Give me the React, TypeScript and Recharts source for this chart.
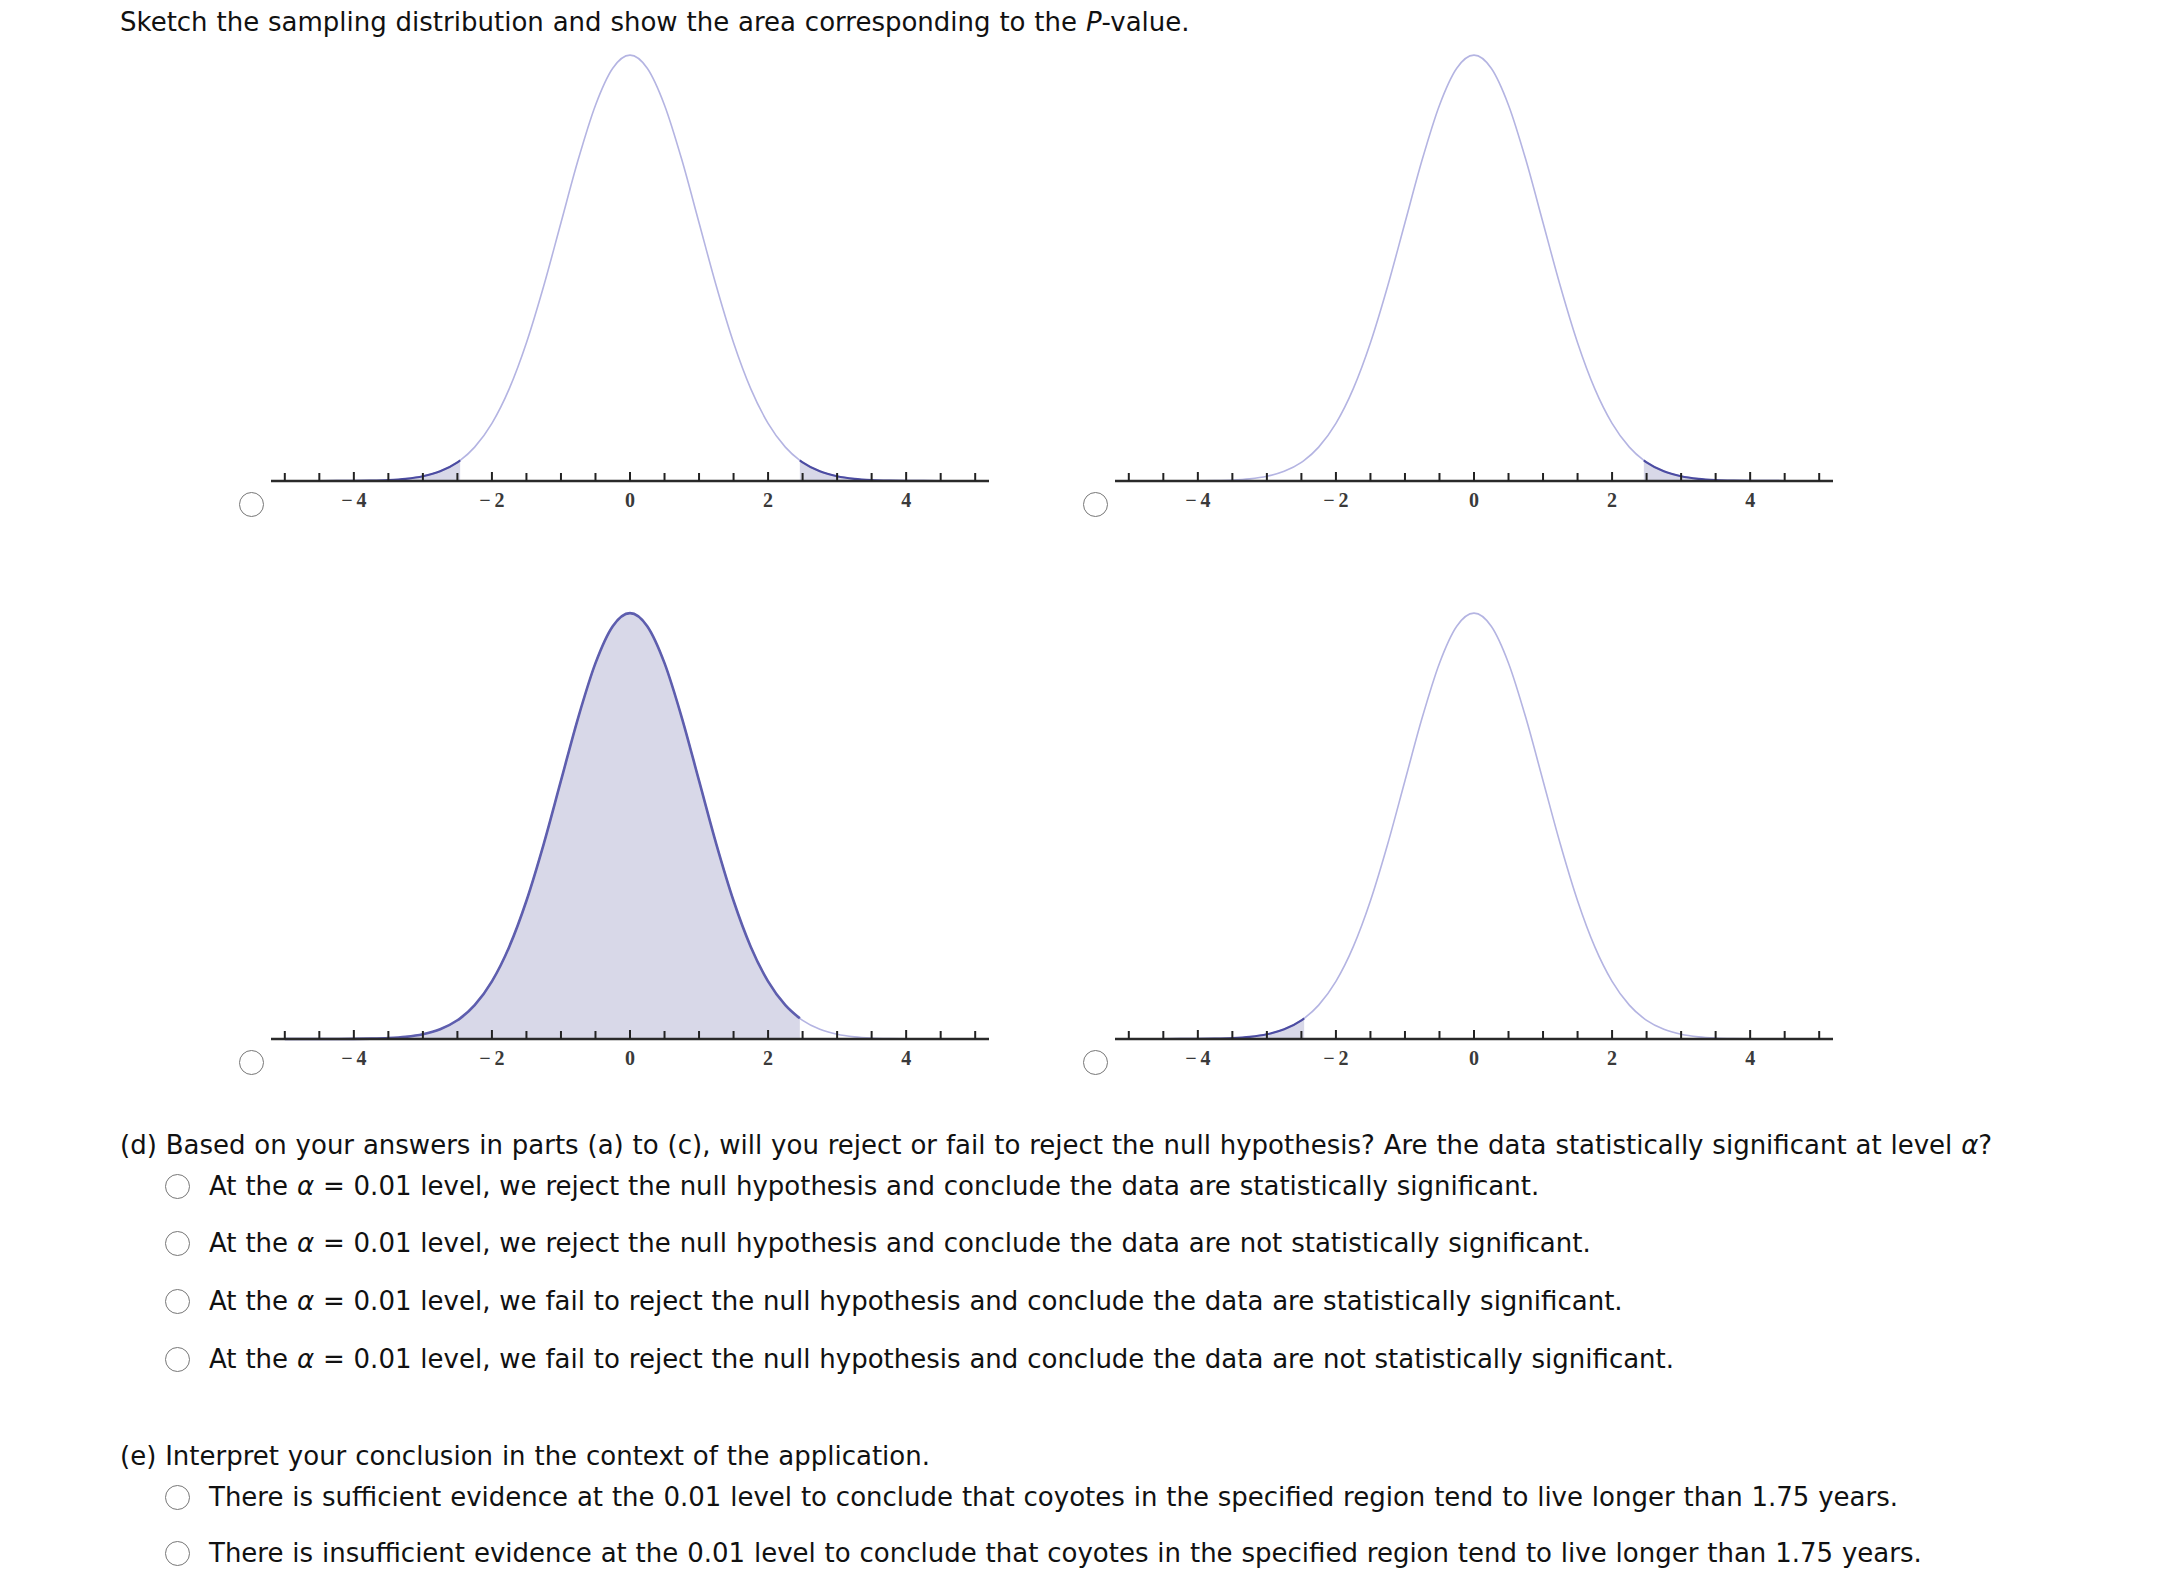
import { ComposedChart, Line, Area, XAxis, YAxis } from "recharts";

// z grid and standard normal density
const zValues = [
  -5, -4.75, -4.5, -4.25, -4, -3.75, -3.5, -3.25, -3, -2.75, -2.5, -2.46, -2.25, -2, -1.75, -1.5, -1.25, -1, -0.75, -0.5, -0.25,
  0, 0.25, 0.5, 0.75, 1, 1.25, 1.5, 1.75, 2, 2.25, 2.46, 2.5, 2.75, 3, 3.25, 3.5, 3.75, 4, 4.25, 4.5, 4.75, 5,
];
const density = [
  0, 0.00001, 0.00002, 0.00005, 0.00013, 0.00035, 0.00087, 0.00203, 0.00443, 0.00909, 0.01753, 0.01936, 0.03174, 0.05399,
  0.08628, 0.12952, 0.18265, 0.24197, 0.30114, 0.35207, 0.38667,
  0.39894, 0.38667, 0.35207, 0.30114, 0.24197, 0.18265, 0.12952, 0.08628, 0.05399, 0.03174, 0.01936, 0.01753, 0.00909,
  0.00443, 0.00203, 0.00087, 0.00035, 0.00013, 0.00005, 0.00002, 0.00001, 0,
];
const zCut = 2.46;
const axisTicks = [-5, -4.5, -4, -3.5, -3, -2.5, -2, -1.5, -1, -0.5, 0, 0.5, 1, 1.5, 2, 2.5, 3, 3.5, 4, 4.5, 5];
const labelTicks = [-4, -2, 0, 2, 4];
// which part is shaded in each option: two-tailed, upper, below cut, lower
const panelShading = ["two", "upper", "below", "lower"];

const dOptions = [
  "level, we reject the null hypothesis and conclude the data are statistically significant.",
  "level, we reject the null hypothesis and conclude the data are not statistically significant.",
  "level, we fail to reject the null hypothesis and conclude the data are statistically significant.",
  "level, we fail to reject the null hypothesis and conclude the data are not statistically significant.",
];
const eOptions = [
  "There is sufficient evidence at the 0.01 level to conclude that coyotes in the specified region tend to live longer than 1.75 years.",
  "There is insufficient evidence at the 0.01 level to conclude that coyotes in the specified region tend to live longer than 1.75 years.",
];

const inShade = (mode: string, z: number) => {
  if (mode === "two") return z <= -zCut || z >= zCut;
  if (mode === "upper") return z >= zCut;
  if (mode === "lower") return z <= -zCut;
  return z <= zCut;
};

const TEXT_FONT = "'DejaVu Sans', Verdana, sans-serif";
const FS = 26;

function AxisTick({ x, y, payload }: any) {
  const v = payload.value;
  const labelled = labelTicks.includes(v);
  return (
    <g>
      <line x1={x} x2={x} y1={y} y2={y - (labelled ? 9 : 8)} stroke="#222" strokeWidth={2} />
      {labelled && (
        <text
          x={x}
          y={y + 26}
          textAnchor="middle"
          fontFamily="'Liberation Serif', serif"
          fontWeight="bold"
          fontSize={20}
          fill="#3a3a3a"
        >
          {v < 0 ? "\u2212\u2009" + Math.abs(v) : String(v)}
        </text>
      )}
    </g>
  );
}

function Radio({ cx, cy, r }: { cx: number; cy: number; r: number }) {
  return (
    <div
      style={{
        position: "absolute",
        left: cx - r,
        top: cy - r,
        width: r * 2,
        height: r * 2,
        boxSizing: "border-box",
        border: "1.8px solid #777",
        borderRadius: "50%",
      }}
    />
  );
}

function NormalPanel({ left, axisY, mode }: { left: number; axisY: number; mode: string }) {
  const data = zValues.map((z, i) => ({
    z,
    y: density[i],
    shade: inShade(mode, z) ? density[i] : null,
  }));
  const full = mode === "below";
  return (
    <div style={{ position: "absolute", left, top: axisY - 427 - 10 }}>
      <ComposedChart width={718} height={477} data={data} margin={{ top: 10, right: 0, left: 0, bottom: 0 }}>
        <XAxis
          dataKey="z"
          type="number"
          domain={[-5.2, 5.2]}
          ticks={axisTicks}
          interval={0}
          height={40}
          tickSize={0}
          tickMargin={0}
          tickLine={false}
          axisLine={{ stroke: "#2a2a2a", strokeWidth: 2.5 }}
          tick={<AxisTick />}
        />
        <YAxis hide type="number" domain={[0, 0.4]} />
        <Area
          dataKey="shade"
          type="monotone"
          stroke="none"
          fill="#d8d8e8"
          fillOpacity={1}
          dot={false}
          activeDot={false}
          isAnimationActive={false}
        />
        <Line
          dataKey="y"
          type="monotone"
          stroke="#b4b4e2"
          strokeWidth={1.6}
          dot={false}
          activeDot={false}
          isAnimationActive={false}
        />
        <Line
          dataKey="shade"
          type="monotone"
          stroke={full ? "#5e5eae" : "#4c4ca2"}
          strokeWidth={full ? 2.6 : 2.2}
          dot={false}
          activeDot={false}
          isAnimationActive={false}
        />
      </ComposedChart>
    </div>
  );
}

const Alpha = () => <i style={{ fontFamily: TEXT_FONT }}>α</i>;

function TextLine({ x, cy, children }: { x: number; cy: number; children: any }) {
  return (
    <div
      style={{
        position: "absolute",
        left: x,
        top: cy - 18,
        lineHeight: "36px",
        fontFamily: TEXT_FONT,
        fontSize: FS,
        wordSpacing: 0.6,
        color: "#111",
        whiteSpace: "nowrap",
      }}
    >
      {children}
    </div>
  );
}

export default function App() {
  const panelPos = [
    { left: 271, axisY: 481 },
    { left: 1115, axisY: 481 },
    { left: 271, axisY: 1039 },
    { left: 1115, axisY: 1039 },
  ];
  const dY = [1186, 1243, 1301, 1359];
  const eY = [1497, 1553];
  return (
    <div style={{ position: "absolute", left: 0, top: 0, width: 2170, height: 1592, background: "#fff" }}>
      <TextLine x={120} cy={22}>
        Sketch the sampling distribution and show the area corresponding to the <i>P</i>-value.
      </TextLine>

      {panelPos.map((p, i) => (
        <div key={i}>
          <NormalPanel left={p.left} axisY={p.axisY} mode={panelShading[i]} />
          <Radio cx={p.left - 20} cy={p.axisY + 23} r={12.5} />
        </div>
      ))}

      <TextLine x={120} cy={1145}>
        (d) Based on your answers in parts (a) to (c), will you reject or fail to reject the null hypothesis? Are the data
        statistically significant at level <Alpha />?
      </TextLine>
      {dOptions.map((t, i) => (
        <div key={i}>
          <Radio cx={177} cy={dY[i]} r={12.5} />
          <TextLine x={209} cy={dY[i]}>
            At the <Alpha /> = 0.01 {t}
          </TextLine>
        </div>
      ))}

      <TextLine x={120} cy={1456}>
        (e) Interpret your conclusion in the context of the application.
      </TextLine>
      {eOptions.map((t, i) => (
        <div key={i}>
          <Radio cx={177} cy={eY[i]} r={12.5} />
          <TextLine x={209} cy={eY[i]}>
            {t}
          </TextLine>
        </div>
      ))}
    </div>
  );
}
